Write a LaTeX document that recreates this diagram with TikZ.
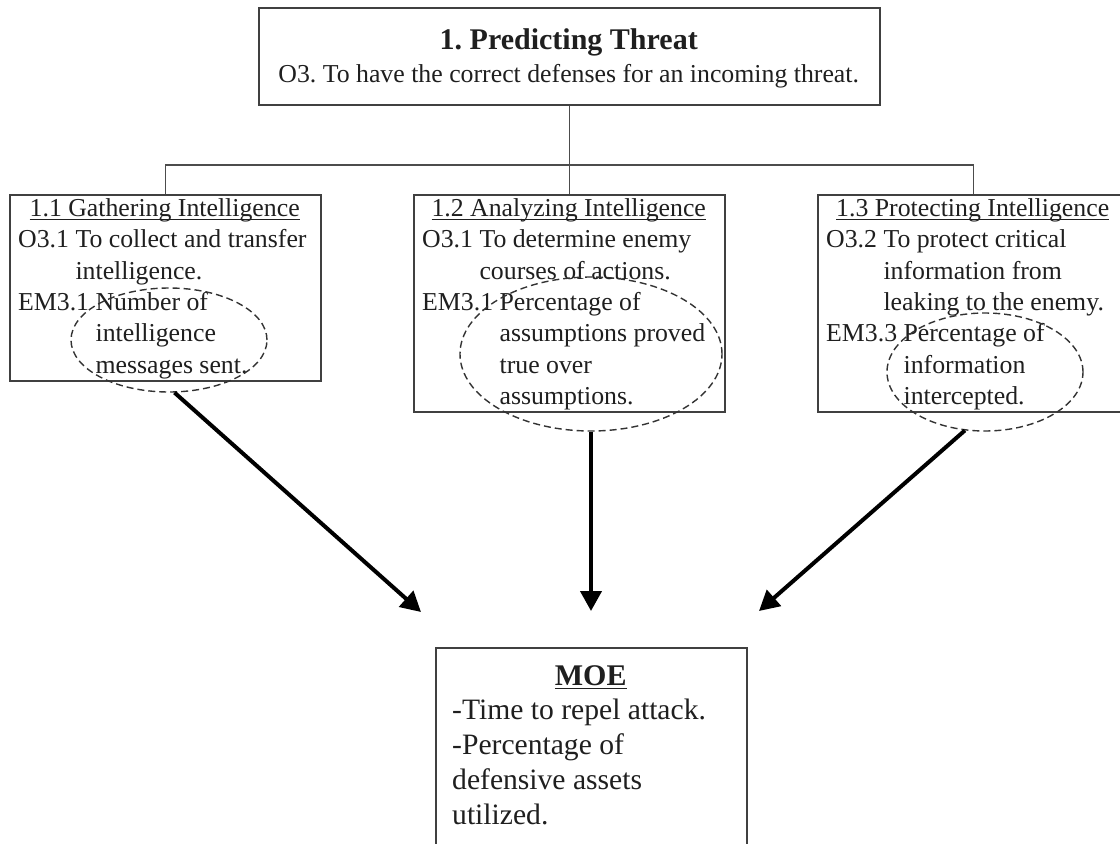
\documentclass[tikz,border=0pt]{standalone}
\usepackage{fontspec}
\setmainfont{Liberation Serif}
\usetikzlibrary{shapes.geometric,arrows.meta}
\newcommand\ulx[1]{\setbox0=\hbox{#1}\rlap{\rule[-3.6pt]{\wd0}{1.2pt}}\box0}
\newcommand\hitem[2]{\par\noindent\setbox0=\hbox{#1\ }\hangindent=\wd0 \hangafter=1 \box0 #2\par}
\newcommand\prep{\frenchspacing\raggedright\spaceskip=0pt\xspaceskip=0pt\parskip=0pt\parindent=0pt\hyphenpenalty=10000\exhyphenpenalty=10000 }
\tikzset{
  boxx/.style={draw=black!75, line width=1.5pt, rectangle, inner sep=0pt, anchor=north west},
  txt/.style={anchor=north west, inner sep=0pt, text=black!88},
  conn/.style={draw=black!70, line width=1.5pt},
  oval/.style={ellipse, draw=black!80, line width=1.4pt, dash pattern=on 7pt off 4pt, inner sep=0pt},
  arr/.style={line width=4pt, -{Triangle[length=20pt,width=21pt]}},
  bodyfont/.style={font=\fontsize{25.8}{31.4}\selectfont},
}
\begin{document}
\begin{tikzpicture}[x=1pt,y=-1pt]
\useasboundingbox (0,0) rectangle (1120,844);
\fill[white] (0,0) rectangle (1120,844);
\clip (0,0) rectangle (1120,844);

% boxes
\node[boxx, minimum width=621pt, minimum height=97pt] (top) at (258,7) {};
\node[boxx, minimum width=311pt, minimum height=186pt] (b1) at (9,194) {};
\node[boxx, minimum width=311pt, minimum height=217pt] (b2) at (413,194) {};
\node[boxx, minimum width=311pt, minimum height=217pt] (b3) at (817,194) {};
\node[boxx, minimum width=311pt, minimum height=230pt] (moe) at (435,647) {};

% tree connectors
\draw[conn] (top.south) -- (b2.north);
\draw[conn] (b1.north) -- ++(0,-29) -| (b3.north);

% texts
\node[txt, text width=600pt] (toptext) at (268.5,27) {\prep
  {\centering\fontsize{30}{30}\selectfont\bfseries\rule{0pt}{22pt}1. Predicting Threat\par}
  {\centering\fontsize{25.8}{33}\selectfont O3. To have the correct defenses for an incoming threat.\par}};

\node[txt, bodyfont, text width=293pt] (b1t) at (18,196) {\prep
  {\centering\rule{0pt}{20pt}\ulx{1.1 Gathering Intelligence}\par}
  \hitem{O3.1}{To collect and transfer\newline intelligence.}
  \hitem{EM3.1}{Number of\newline intelligence\newline messages sent.}};

\node[txt, bodyfont, text width=293pt] (b2t) at (422,196) {\prep
  {\centering\rule{0pt}{20pt}\ulx{1.2 Analyzing Intelligence}\par}
  \hitem{O3.1}{To determine enemy\newline courses of actions.}
  \hitem{EM3.1}{Percentage of\newline assumptions proved\newline true over\newline assumptions.}};

\node[txt, bodyfont, text width=293pt] (b3t) at (826,196) {\prep
  {\centering\rule{0pt}{20pt}\ulx{1.3 Protecting Intelligence}\par}
  \hitem{O3.2}{To protect critical\newline information from\newline leaking to the enemy.}
  \hitem{EM3.3}{Percentage of\newline information\newline intercepted.}};

\node[txt, text width=277pt] (moet) at (452,663) {\prep
  {\centering\fontsize{30}{30}\selectfont\bfseries\rule{0pt}{22pt}\ulx{MOE}\par}
  \fontsize{29.6}{34.7}\selectfont -Time to repel attack.\newline -Percentage of\newline defensive assets\newline utilized.\par};

% dashed ellipses
\node[oval, minimum width=196pt, minimum height=104pt] (e1) at (169,340) {};
\node[oval, minimum width=262pt, minimum height=154pt] (e2) at (591,354) {};
\node[oval, minimum width=196pt, minimum height=118pt] (e3) at (985,372) {};

% arrow tips
\coordinate (t1) at (421,612);
\coordinate (t2) at (591,611);
\coordinate (t3) at (759,611);

\draw[arr] (e1.-84) -- (t1);
\draw[arr] (e2.south) -- (t2);
\draw[arr] (e3.-109) -- (t3);
\end{tikzpicture}
\end{document}
